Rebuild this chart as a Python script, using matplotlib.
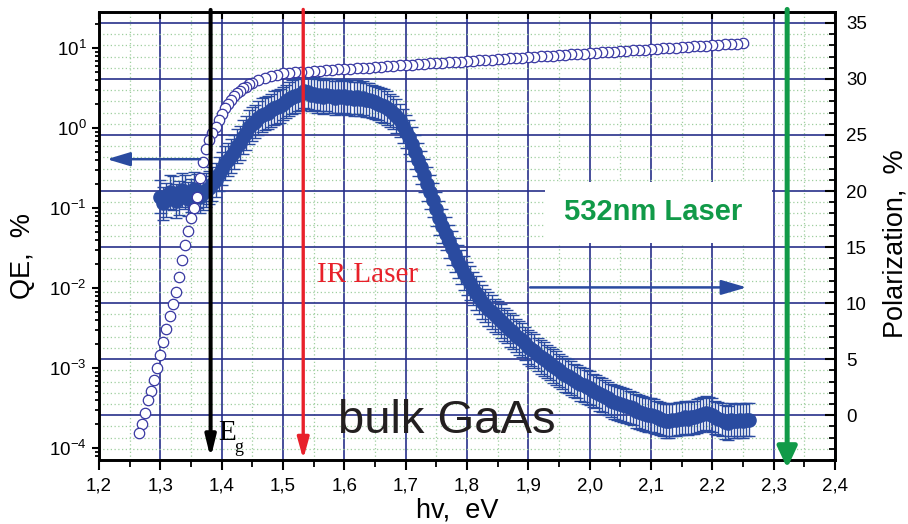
import matplotlib.pyplot as plt
from matplotlib.ticker import MultipleLocator, NullFormatter, LogLocator
from matplotlib.patches import Rectangle
import matplotlib.transforms as mtransforms

plt.rcParams['font.family'] = ['Liberation Sans', 'DejaVu Sans']
plt.rcParams['mathtext.default'] = 'regular'

# quantum efficiency, %  (open circles, left log axis)
qe_energy = [1.265, 1.270, 1.275, 1.280, 1.285, 1.290, 1.295, 1.300, 1.305, 1.310,
             1.315, 1.320, 1.325, 1.330, 1.335, 1.340, 1.345, 1.350, 1.355, 1.360,
             1.365, 1.370, 1.375, 1.380, 1.385, 1.390, 1.395, 1.400, 1.405, 1.410,
             1.415, 1.420, 1.425, 1.430, 1.435, 1.440, 1.445, 1.450, 1.46, 1.47,
             1.48, 1.49, 1.50, 1.51, 1.52, 1.53, 1.54, 1.55, 1.56, 1.57,
             1.58, 1.59, 1.60, 1.61, 1.62, 1.63, 1.64, 1.65, 1.66, 1.67,
             1.68, 1.69, 1.70, 1.71, 1.72, 1.73, 1.74, 1.75, 1.76, 1.77,
             1.78, 1.79, 1.80, 1.81, 1.82, 1.83, 1.84, 1.85, 1.86, 1.87,
             1.88, 1.89, 1.90, 1.91, 1.92, 1.93, 1.94, 1.95, 1.96, 1.97,
             1.98, 1.99, 2.00, 2.01, 2.02, 2.03, 2.04, 2.05, 2.06, 2.07,
             2.08, 2.09, 2.10, 2.11, 2.12, 2.13, 2.14, 2.15, 2.16, 2.17,
             2.18, 2.19, 2.20, 2.21, 2.22, 2.23, 2.24, 2.25]
qe_values = [1.55e-4, 2.0e-4, 2.8e-4, 4.0e-4, 5.2e-4, 7.2e-4, 1.0e-3, 1.45e-3, 2.15e-3, 3.1e-3,
             4.5e-3, 6.3e-3, 9.1e-3, 1.4e-2, 2.25e-2, 3.5e-2, 5.2e-2, 7.6e-2, 0.102, 0.138,
             0.24, 0.38, 0.55, 0.72, 0.87, 1.05, 1.26, 1.51, 1.78, 2.0,
             2.24, 2.51, 2.75, 2.95, 3.16, 3.31, 3.55, 3.72, 3.98, 4.27,
             4.47, 4.68, 4.90, 4.95, 5.01, 5.07, 5.13, 5.20, 5.25, 5.32,
             5.38, 5.45, 5.51, 5.57, 5.62, 5.69, 5.75, 5.82, 5.89, 5.96,
             6.03, 6.10, 6.17, 6.24, 6.31, 6.38, 6.46, 6.53, 6.61, 6.68,
             6.76, 6.84, 6.92, 7.00, 7.08, 7.16, 7.24, 7.33, 7.41, 7.50,
             7.59, 7.67, 7.74, 7.83, 7.93, 8.02, 8.11, 8.20, 8.30, 8.39,
             8.49, 8.59, 8.69, 8.79, 8.89, 8.99, 9.10, 9.18, 9.29, 9.40,
             9.51, 9.62, 9.73, 9.84, 9.95, 10.07, 10.19, 10.30, 10.42, 10.54,
             10.67, 10.79, 10.91, 11.04, 11.17, 11.30, 11.43, 11.53]

# spin polarization, %  (filled circles, right axis)
pol_energy = [1.300, 1.305, 1.310, 1.315, 1.320, 1.325, 1.330, 1.335, 1.340, 1.345,
              1.350, 1.355, 1.360, 1.365, 1.370, 1.375, 1.380, 1.385, 1.390, 1.395,
              1.400, 1.405, 1.410, 1.415, 1.420, 1.425, 1.430, 1.435, 1.440, 1.445,
              1.450, 1.455, 1.460, 1.465, 1.470, 1.475, 1.480, 1.485, 1.490, 1.495,
              1.500, 1.505, 1.510, 1.515, 1.520, 1.525, 1.530, 1.535, 1.540, 1.545,
              1.550, 1.555, 1.560, 1.565, 1.570, 1.575, 1.580, 1.585, 1.590, 1.595,
              1.600, 1.605, 1.610, 1.615, 1.620, 1.625, 1.630, 1.635, 1.640, 1.645,
              1.650, 1.655, 1.660, 1.665, 1.670, 1.675, 1.680, 1.685, 1.690, 1.695,
              1.700, 1.705, 1.710, 1.715, 1.720, 1.725, 1.730, 1.735, 1.740, 1.745,
              1.750, 1.755, 1.760, 1.765, 1.770, 1.775, 1.780, 1.785, 1.790, 1.795,
              1.800, 1.805, 1.810, 1.815, 1.820, 1.825, 1.830, 1.835, 1.840, 1.845,
              1.850, 1.855, 1.860, 1.865, 1.870, 1.875, 1.880, 1.885, 1.890, 1.895,
              1.900, 1.905, 1.910, 1.915, 1.920, 1.925, 1.930, 1.935, 1.940, 1.945,
              1.950, 1.955, 1.960, 1.965, 1.970, 1.975, 1.980, 1.985, 1.990, 1.995,
              2.000, 2.005, 2.010, 2.015, 2.020, 2.025, 2.030, 2.035, 2.040, 2.045,
              2.050, 2.055, 2.060, 2.065, 2.070, 2.075, 2.080, 2.085, 2.090, 2.095,
              2.100, 2.105, 2.110, 2.115, 2.120, 2.125, 2.130, 2.135, 2.140, 2.145,
              2.150, 2.155, 2.160, 2.165, 2.170, 2.175, 2.180, 2.185, 2.190, 2.195,
              2.200, 2.205, 2.210, 2.215, 2.220, 2.225, 2.230, 2.235, 2.240, 2.245,
              2.250, 2.255, 2.260]
pol_values = [19.5, 18.9, 19.2, 19.9, 19.8, 19.1, 19.4, 20.1, 19.9, 19.3,
              19.6, 20.2, 20.0, 19.5, 19.8, 20.1, 20.3, 20.6, 21.0, 21.5,
              22.0, 22.5, 22.8, 23.1, 23.5, 24.0, 24.3, 24.8, 25.2, 25.7,
              26.0, 26.2, 26.5, 26.8, 26.9, 27.0, 27.2, 27.4, 27.5, 27.6,
              27.8, 28.0, 28.2, 28.4, 28.5, 28.6, 28.7, 28.9, 28.8, 28.6,
              28.7, 28.5, 28.6, 28.4, 28.6, 28.5, 28.5, 28.3, 28.5, 28.4,
              28.5, 28.3, 28.4, 28.2, 28.4, 28.2, 28.3, 28.1, 28.1, 28.0,
              27.9, 27.8, 27.7, 27.6, 27.4, 27.2, 27.0, 26.7, 26.3, 25.8,
              25.3, 24.8, 24.2, 23.5, 22.8, 22.1, 21.4, 20.6, 19.9, 19.2,
              18.4, 17.6, 16.9, 16.2, 15.5, 14.9, 14.3, 13.7, 13.2, 12.7,
              12.2, 11.8, 11.3, 10.9, 10.5, 10.1, 9.8, 9.5, 9.2, 8.9,
              8.7, 8.4, 8.1, 7.9, 7.6, 7.4, 7.1, 6.9, 6.7, 6.4,
              6.1, 5.9, 5.7, 5.4, 5.2, 5.0, 4.8, 4.6, 4.4, 4.2,
              4.0, 3.8, 3.6, 3.5, 3.3, 3.1, 3.0, 2.8, 2.7, 2.5,
              2.4, 2.2, 2.1, 1.9, 1.8, 1.6, 1.5, 1.3, 1.2, 1.1,
              1.0, 0.9, 0.8, 0.7, 0.6, 0.4, 0.3, 0.2, 0.1, 0.0,
              0.0, -0.1, -0.2, -0.3, -0.4, -0.5, -0.5, -0.4, -0.4, -0.3,
              -0.3, -0.2, -0.3, -0.2, -0.2, -0.1, 0.0, 0.1, 0.2, 0.1,
              0.0, -0.2, -0.3, -0.4, -0.6, -0.7, -0.4, -0.5, -0.5, -0.4,
              -0.5, -0.4, -0.4]
pol_error = 1.5

x_ticks = [1.2, 1.3, 1.4, 1.5, 1.6, 1.7, 1.8, 1.9, 2.0, 2.1, 2.2, 2.3, 2.4]
x_tick_labels = ['1,2', '1,3', '1,4', '1,5', '1,6', '1,7', '1,8', '1,9',
                 '2,0', '2,1', '2,2', '2,3', '2,4']

eg_energy = 1.382
ir_energy = 1.533
green_energy = 2.322

blue = '#2a4ba0'
ring = '#3838a2'
grid_major = '#27308a'
grid_minor = '#9fcf9f'
green = '#119a48'
red = '#e8202a'

fig = plt.figure(figsize=(9.08, 5.24), dpi=100)
ax = fig.add_axes([0.109, 0.1221, 0.8106, 0.8556])
ax_qe = ax.twinx()

# polarization axis carries the grid
ax.set_xlim(1.2, 2.4)
ax.set_ylim(-4, 36)
ax.set_axisbelow(True)
ax.xaxis.set_major_locator(MultipleLocator(0.1))
ax.xaxis.set_minor_locator(MultipleLocator(0.05))
ax.yaxis.set_major_locator(MultipleLocator(5))
ax.yaxis.set_minor_locator(MultipleLocator(1))
ax.set_xticks(x_ticks)
ax.set_xticklabels(x_tick_labels)
ax.grid(which='major', color=grid_major, lw=1.2)
ax.grid(which='minor', color=grid_minor, lw=0.9, ls=(0, (1, 2)))
ax.yaxis.tick_right()
ax.tick_params(axis='y', which='major', direction='in', length=7, width=1.5,
               labelsize=13.5, pad=8)
ax.tick_params(axis='y', which='minor', direction='in', length=4, width=1.3)
ax.tick_params(axis='x', which='major', direction='out', length=7.5, width=1.5,
               labelsize=13.5, pad=5, top=False)
ax.tick_params(axis='x', which='minor', direction='out', length=5, width=1.3, top=False)

ax.errorbar(pol_energy, pol_values, yerr=pol_error, fmt='o', ms=9.5, color=blue,
            mec=blue, ecolor=blue, elinewidth=1, capsize=4, capthick=1, zorder=3)

# white box behind the green label
trans = mtransforms.blended_transform_factory(ax.transData, ax.transAxes)
ax.add_patch(Rectangle((1.928, 0.484), 0.37, 0.136, transform=trans,
                       facecolor='white', edgecolor='none', zorder=2))
ax.text(2.104, 0.553, '532nm Laser', transform=trans, color=green, fontsize=21,
        fontweight='bold', ha='center', va='center', zorder=4)

# QE on a log axis, drawn on the left
ax_qe.set_yscale('log')
ax_qe.set_ylim(7.14e-5, 28.7)
ax_qe.yaxis.tick_left()
ax_qe.yaxis.set_major_locator(LogLocator(base=10, numticks=10))
ax_qe.yaxis.set_minor_locator(LogLocator(base=10, subs=range(2, 10), numticks=20))
ax_qe.yaxis.set_minor_formatter(NullFormatter())
ax_qe.tick_params(axis='y', which='major', direction='out', length=5, width=1.5,
                  labelsize=13.5, pad=4)
ax_qe.tick_params(axis='y', which='minor', direction='out', length=3.2, width=1.3)
ax_qe.xaxis.set_visible(True)
ax_qe.tick_params(axis='x', which='major', top=True, bottom=False, direction='in',
                  length=5, width=1.5, labeltop=False, labelbottom=False)
ax_qe.tick_params(axis='x', which='minor', top=False, bottom=False)

ax_qe.plot(qe_energy[::-1], qe_values[::-1], 'o', ms=7.5, mfc='white', mec=ring,
           mew=0.9, ls='none', zorder=3)

for a in (ax, ax_qe):
    for s in a.spines.values():
        s.set_linewidth(1.9)

# laser lines and the band gap
ax_qe.annotate('', xy=(eg_energy, 0.004), xytext=(eg_energy, 1.004),
               xycoords=('data', 'axes fraction'), textcoords=('data', 'axes fraction'),
               arrowprops=dict(arrowstyle='-|>,head_length=0.9,head_width=0.22',
                               color='black', lw=2.9, shrinkA=0, shrinkB=0,
                               mutation_scale=14),
               annotation_clip=False, zorder=5)
ax_qe.annotate('', xy=(ir_energy, 0.002), xytext=(ir_energy, 1.005),
               xycoords=('data', 'axes fraction'), textcoords=('data', 'axes fraction'),
               arrowprops=dict(arrowstyle='-|>,head_length=0.9,head_width=0.25',
                               color=red, lw=2.4, shrinkA=0, shrinkB=0,
                               mutation_scale=14),
               annotation_clip=False, zorder=5)
ax_qe.annotate('', xy=(green_energy, -0.018), xytext=(green_energy, 1.005),
               xycoords=('data', 'axes fraction'), textcoords=('data', 'axes fraction'),
               arrowprops=dict(arrowstyle='-|>,head_length=0.9,head_width=0.42',
                               color=green, lw=3.6, shrinkA=0, shrinkB=0,
                               mutation_scale=14),
               annotation_clip=False, zorder=5)

# arrows pointing each curve at its axis
ax_qe.annotate('', xy=(1.213, 0.671), xytext=(1.365, 0.671),
               xycoords=('data', 'axes fraction'), textcoords=('data', 'axes fraction'),
               arrowprops=dict(arrowstyle='-|>,head_length=1.0,head_width=0.3',
                               color=blue, lw=1.8, shrinkA=0, shrinkB=0,
                               mutation_scale=14), zorder=4)
ax_qe.annotate('', xy=(2.256, 0.385), xytext=(1.903, 0.385),
               xycoords=('data', 'axes fraction'), textcoords=('data', 'axes fraction'),
               arrowprops=dict(arrowstyle='-|>,head_length=1.1,head_width=0.32',
                               color=blue, lw=1.8, shrinkA=0, shrinkB=0,
                               mutation_scale=14), zorder=4)

ax_qe.text(1.556, 0.397, 'IR Laser', transform=ax_qe.get_xaxis_transform(),
           color=red, fontsize=21, family=['Liberation Serif', 'DejaVu Serif'],
           va='baseline', zorder=6)
ax_qe.text(1.394, 0.045, 'E', transform=ax_qe.get_xaxis_transform(),
           color='black', fontsize=21, family=['Liberation Serif', 'DejaVu Serif'],
           va='baseline', zorder=6)
ax_qe.text(1.421, 0.018, 'g', transform=ax_qe.get_xaxis_transform(),
           color='black', fontsize=13, family=['Liberation Serif', 'DejaVu Serif'],
           va='baseline', zorder=6)
ax_qe.text(1.59, 0.060, 'bulk GaAs', transform=ax_qe.get_xaxis_transform(),
           color='#231f20', fontsize=34, va='baseline', zorder=6)

fig.text(0.504, 0.012, 'hv,  eV', fontsize=19.5, ha='center', va='baseline')
fig.text(0.0253, 0.511, 'QE,  %', fontsize=19.5, rotation=90, ha='center', va='center')
fig.text(0.9857, 0.536, 'Polarization,  %', fontsize=19.5, rotation=90,
         ha='center', va='center')

fig.savefig('out.png', dpi=100)
